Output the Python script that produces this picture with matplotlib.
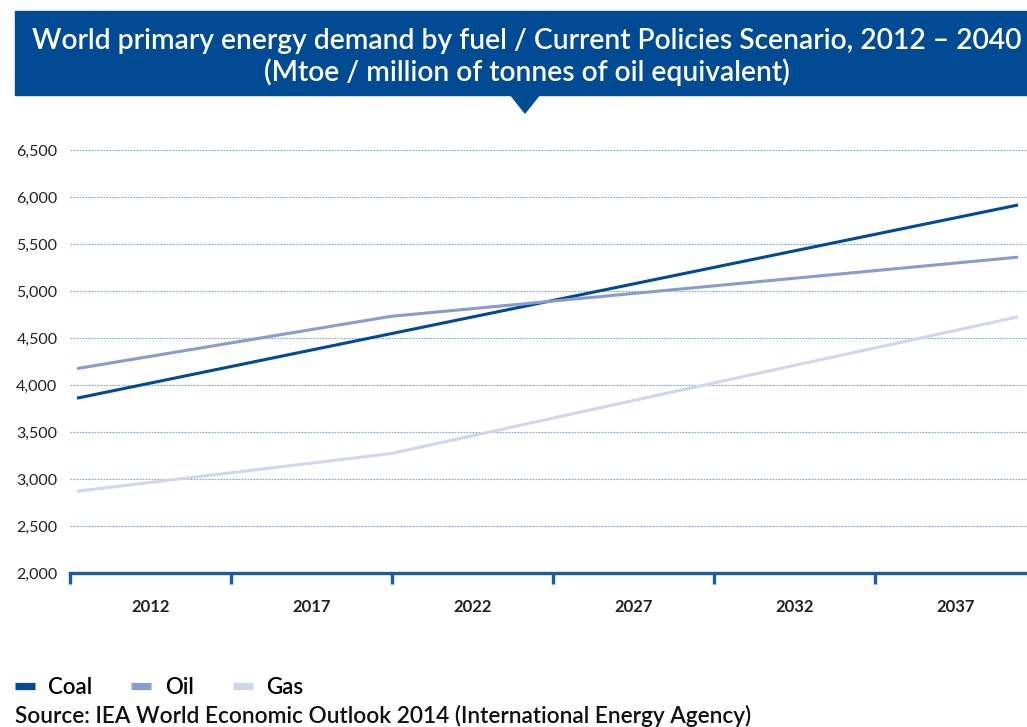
import numpy as np
import matplotlib.pyplot as plt
from matplotlib.patches import Rectangle, Polygon
from matplotlib.lines import Line2D

plt.rcParams['font.family'] = ['Lato', 'DejaVu Sans']

# data (Mtoe)
years = ['2012', '2020', '2030', '2040']
coal = [3860, 4545, 5230, 5915]
oil = [4175, 4730, 5045, 5360]
gas = [2870, 3270, 4000, 4725]
series = [('Coal', coal, '#004a97'), ('Oil', oil, '#8a9bcd'), ('Gas', gas, '#d1d6ec')]
band_labels = ['2012', '2017', '2022', '2027', '2032', '2037']
yticks = [2000, 2500, 3000, 3500, 4000, 4500, 5000, 5500, 6000, 6500]

W, H = 1027, 727
fig = plt.figure(figsize=(W / 100, H / 100), dpi=100)

def fx(px):
    return px / W

def fy(py):
    return 1 - py / H

# title banner
fig.patches.append(Rectangle((fx(15), fy(95)), fx(1027) - fx(15), fy(11) - fy(95),
                             transform=fig.transFigure, color='#004b93', zorder=0))
fig.patches.append(Polygon([(fx(510), fy(94)), (fx(540), fy(94)), (fx(525), fy(113))],
                           closed=True, transform=fig.transFigure, color='#004b93', zorder=0))
fig.text(fx(527), fy(57),
         'World primary energy demand by fuel / Current Policies Scenario, 2012 \u2013 2040\n'
         '(Mtoe / million of tonnes of oil equivalent)',
         ha='center', va='center', color='white', fontsize=20.3, fontweight='semibold',
         linespacing=1.15)

left, right, top, bottom = 70, 1027, 150, 573
ax = fig.add_axes([fx(left), fy(bottom), fx(right) - fx(left), fy(top) - fy(bottom)])

# category positions for the data points
xs = np.arange(len(years))
span = (1018 - 77) / (len(years) - 1)
ax.set_xlim((left - 77) / span, (right - 77) / span)
ax.set_ylim(2000, 6500)

for name, vals, col in series:
    ax.plot(xs, vals, color=col, lw=2.2, solid_capstyle='butt', clip_on=False, zorder=3)

ax.set_yticks(yticks)
ax.set_yticklabels([f'{v:,}' for v in yticks], fontsize=11.5, color='#222222')
ax.tick_params(axis='y', length=0, pad=9)
ax.set_xticks([])
for v in yticks[1:]:
    ax.axhline(v, color='#7ea3cf', lw=0.8, ls=(0, (1.5, 1.2)), zorder=1)

for s in ['top', 'right', 'left']:
    ax.spines[s].set_visible(False)
ax.spines['bottom'].set_color('#1a5ba3')
ax.spines['bottom'].set_linewidth(2.4)

# band axis for the year labels
ax2 = ax.twiny()
ax2.xaxis.set_ticks_position('bottom')
ax2.xaxis.set_label_position('bottom')
ax2.set_xlim(0, (right - left) / 161)
ax2.set_xticks(np.arange(len(band_labels)))
ax2.set_xticklabels([])
ax2.tick_params(axis='x', which='major', direction='out', length=8, width=2.4,
                color='#1a5ba3')
ax2.set_xticks(np.arange(len(band_labels)) + 0.5, minor=True)
ax2.set_xticklabels(band_labels, minor=True, fontsize=12, fontweight='bold',
                    color='#222222')
ax2.tick_params(axis='x', which='minor', length=0, pad=19)
for s in ['top', 'right', 'left', 'bottom']:
    ax2.spines[s].set_visible(False)

handles = [Line2D([0], [0], color=c, lw=5.2, solid_capstyle='butt') for _, _, c in series]
fig.legend(handles, [n for n, _, _ in series], loc='center left',
           bbox_to_anchor=(fx(15), fy(687)), ncol=3, frameon=False,
           borderaxespad=0, borderpad=0,
           handlelength=0.9, handletextpad=0.6, columnspacing=1.75,
           prop={'size': 16, 'weight': 'semibold'})

fig.text(fx(15), fy(716), 'Source: IEA World Economic Outlook 2014 (International Energy Agency)',
         ha='left', va='center', fontsize=16.3, fontweight='semibold', color='#111111')

fig.savefig('out.png', dpi=100)
